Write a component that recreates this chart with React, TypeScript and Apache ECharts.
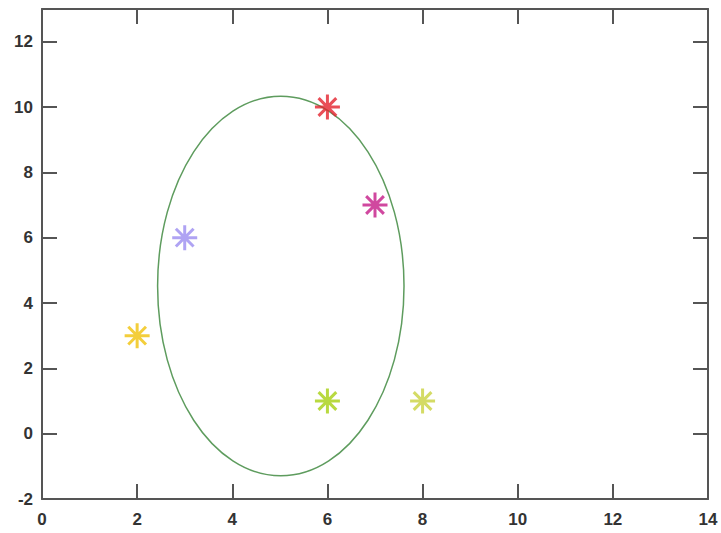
import React, { useEffect, useRef } from "react";
import * as echarts from "echarts";

const xTicks = [0, 2, 4, 6, 8, 10, 12, 14];
const yTicks = [-2, 0, 2, 4, 6, 8, 10, 12];
const pointX = [6, 7, 3, 2, 6, 8];
const pointY = [10, 7, 6, 3, 1, 1];
const pointColors = ["#e3222d", "#c41a87", "#9b8cf0", "#f0c20a", "#a6cf10", "#c9d23e"];
// ellipse: centre x, centre y, radius x, radius y (data units)
const ellipse = [5.02, 4.52, 2.59, 5.81];

const axisColor = "#555555";
const labelStyle = {
  color: "#333333",
  fontWeight: "bold" as const,
  fontSize: 17,
  fontFamily: "Liberation Sans, Arial, sans-serif",
};

const starPath =
  "path://M12 0 L12 24 M0 12 L24 12 M3.5 3.5 L20.5 20.5 M3.5 20.5 L20.5 3.5";

export default function App() {
  const ref = useRef<HTMLDivElement>(null);
  useEffect(() => {
    if (!ref.current) return;
    const chart = echarts.init(ref.current, null, { renderer: "svg" });
    const xCommon = {
      type: "value" as const,
      min: xTicks[0],
      max: xTicks[xTicks.length - 1],
      interval: 2,
      splitLine: { show: false },
      axisLine: { show: true, onZero: false, lineStyle: { color: axisColor, width: 2 } },
      axisTick: { show: true, inside: true, length: 15, lineStyle: { color: axisColor, width: 2 } },
    };
    const yCommon = {
      type: "value" as const,
      min: yTicks[0],
      max: 13,
      interval: 2,
      splitLine: { show: false },
      axisLine: { show: true, onZero: false, lineStyle: { color: axisColor, width: 2 } },
      axisTick: { show: true, inside: true, length: 15, lineStyle: { color: axisColor, width: 2 } },
    };
    chart.setOption({
      animation: false,
      backgroundColor: "#ffffff",
      grid: { left: 42, right: 13, top: 9, bottom: 34 },
      xAxis: [
        {
          ...xCommon,
          position: "bottom",
          axisLabel: { ...labelStyle, margin: 12 },
        },
        { ...xCommon, position: "top", axisLabel: { show: false } },
      ],
      yAxis: [
        {
          ...yCommon,
          position: "left",
          axisLabel: {
            ...labelStyle,
            margin: 9,
            formatter: (v: number) => (yTicks.includes(v) ? String(v) : ""),
          },
        },
        { ...yCommon, position: "right", axisLabel: { show: false } },
      ],
      series: [
        {
          type: "custom",
          xAxisIndex: 0,
          yAxisIndex: 0,
          encode: { x: 0, y: 1 },
          data: [ellipse],
          renderItem: (params: any, api: any) => {
            const c = api.coord([api.value(0), api.value(1)]);
            const s = api.size([api.value(2), api.value(3)]);
            return {
              type: "ellipse",
              shape: { cx: c[0], cy: c[1], rx: s[0], ry: s[1] },
              style: { fill: "none", stroke: "#5e9c5e", lineWidth: 1.5 },
            };
          },
          z: 1,
        },
        {
          type: "scatter",
          xAxisIndex: 0,
          yAxisIndex: 0,
          symbol: starPath,
          symbolSize: 25,
          data: pointX.map((x, i) => ({
            value: [x, pointY[i]],
            itemStyle: { color: "transparent", borderColor: pointColors[i], borderWidth: 3 },
          })),
          z: 2,
        },
      ],
    });
    return () => chart.dispose();
  }, []);
  return (
    <div
      ref={ref}
      style={{ position: "fixed", left: 0, top: 0, width: 721, height: 533, background: "#fff" }}
    />
  );
}
